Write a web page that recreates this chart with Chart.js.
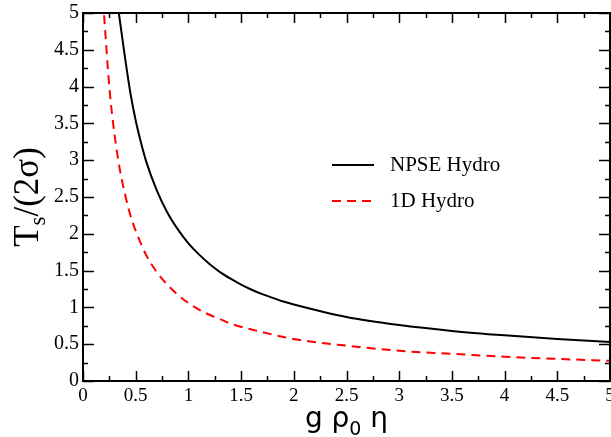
<!DOCTYPE html>
<html>
<head>
<meta charset="utf-8">
<script src="https://cdn.jsdelivr.net/npm/chart.js@4.4.0/dist/chart.umd.min.js"></script>
<style>
  html, body { margin: 0; padding: 0; background: #fff; }
  #wrap { width: 611px; height: 437px; position: relative; }
</style>
</head>
<body>
<div id="wrap"><canvas id="myChart"></canvas></div>
<script>
// values
const npseEta = [0.34, 0.4, 0.45, 0.5, 0.55, 0.6, 0.7, 0.8, 0.9, 1.0, 1.1, 1.2, 1.3, 1.4, 1.5, 1.6, 1.7, 1.8, 1.9, 2.0, 2.5, 3.0, 3.5, 4.0, 4.5, 5.0];
const npseT   = [5.0, 4.38, 3.91, 3.54, 3.24, 2.98, 2.59, 2.29, 2.06, 1.87, 1.72, 1.59, 1.48, 1.39, 1.31, 1.24, 1.18, 1.13, 1.08, 1.04, 0.87, 0.76, 0.68, 0.62, 0.57, 0.53];
const hydroEta = [0.2, 0.25, 0.3, 0.35, 0.4, 0.45, 0.5, 0.6, 0.7, 0.8, 0.9, 1.0, 1.1, 1.2, 1.3, 1.4, 1.6, 1.8, 2.0, 2.5, 3.0, 3.5, 4.0, 4.5, 5.0];
const hydroT   = [4.97, 3.99, 3.34, 2.87, 2.53, 2.25, 2.04, 1.71, 1.48, 1.31, 1.17, 1.06, 0.97, 0.9, 0.84, 0.78, 0.7, 0.63, 0.57, 0.48, 0.41, 0.37, 0.33, 0.3, 0.275];
const seriesNames = ['NPSE Hydro', '1D Hydro'];
const xTickValues = [0, 0.5, 1, 1.5, 2, 2.5, 3, 3.5, 4, 4.5, 5];
const xTickLabels = ['0', '0.5', '1', '1.5', '2', '2.5', '3', '3.5', '4', '4.5', '5'];
const yTickValues = [0, 0.5, 1, 1.5, 2, 2.5, 3, 3.5, 4, 4.5, 5];
const yTickLabels = ['0', '0.5', '1', '1.5', '2', '2.5', '3', '3.5', '4', '4.5', '5'];

const toPoints = (xs, ys) => xs.map((x, i) => ({ x: x, y: ys[i] }));

// frame with inward ticks on all four sides, titles with subscripts, legend
const framePlugin = {
    id: 'frame',
    afterDatasetsDraw(chart) {
        const ctx = chart.ctx;
        const a = chart.chartArea;
        const xs = chart.scales.x, ys = chart.scales.y;
        ctx.save();
        ctx.strokeStyle = '#000';
        ctx.lineWidth = 1.5;
        ctx.beginPath();
        for (let v = 0; v <= 5.001; v += 0.25) {
            const major = Math.abs(v * 2 - Math.round(v * 2)) < 1e-6;
            const px = Math.round(xs.getPixelForValue(v)) + 0.5;
            const py = Math.round(ys.getPixelForValue(v)) + 0.5;
            const lx = major ? 10 : 5;
            const ly = major ? 11 : 5;
            ctx.moveTo(px, a.bottom); ctx.lineTo(px, a.bottom - lx);
            ctx.moveTo(px, a.top); ctx.lineTo(px, a.top + lx);
            ctx.moveTo(a.left, py); ctx.lineTo(a.left + ly, py);
            ctx.moveTo(a.right, py); ctx.lineTo(a.right - ly, py);
        }
        ctx.stroke();
        ctx.lineWidth = 2;
        ctx.strokeRect(a.left, a.top, a.right - a.left, a.bottom - a.top);

        // legend
        const ds = chart.data.datasets;
        const rows = [165, 201];
        ds.forEach((d, i) => {
            ctx.strokeStyle = d.borderColor;
            ctx.lineWidth = 2;
            ctx.setLineDash(d.borderDash || []);
            ctx.beginPath();
            ctx.moveTo(332, rows[i]);
            ctx.lineTo(374, rows[i]);
            ctx.stroke();
            ctx.setLineDash([]);
            ctx.fillStyle = '#000';
            ctx.font = '21px "Liberation Serif"';
            ctx.textBaseline = 'middle';
            ctx.textAlign = 'left';
            ctx.fillText(d.label, 390, rows[i]);
        });

        // y title: T_s/(2σ)
        ctx.save();
        ctx.translate(38, (a.top + a.bottom) / 2);
        ctx.rotate(-Math.PI / 2);
        ctx.fillStyle = '#000';
        ctx.textBaseline = 'alphabetic';
        ctx.textAlign = 'left';
        const big = '35px "Liberation Serif"', small = '23px "Liberation Serif"';
        ctx.font = big; const wT = ctx.measureText('T').width;
        ctx.font = small; const wS = ctx.measureText('s').width;
        ctx.font = big; const wR = ctx.measureText('/(2σ)').width;
        let x0 = -(wT + wS + wR) / 2;
        ctx.font = big; ctx.fillText('T', x0, 0);
        ctx.font = small; ctx.fillText('s', x0 + wT, 7);
        ctx.font = big; ctx.fillText('/(2σ)', x0 + wT + wS, 0);
        ctx.restore();

        // x title: g ρ_0 η
        const xb = '28px "DejaVu Sans"', xsml = '19px "DejaVu Sans"';
        ctx.fillStyle = '#000';
        ctx.textBaseline = 'alphabetic';
        ctx.textAlign = 'left';
        ctx.font = xb; const w1 = ctx.measureText('g ρ').width;
        ctx.font = xsml; const w2 = ctx.measureText('0').width;
        ctx.font = xb; const w3 = ctx.measureText(' η').width;
        let gx = (a.left + a.right) / 2 - (w1 + w2 + w3) / 2;
        ctx.font = xb; ctx.fillText('g ρ', gx, 427);
        ctx.font = xsml; ctx.fillText('0', gx + w1, 435);
        ctx.font = xb; ctx.fillText(' η', gx + w1 + w2, 427);
        ctx.restore();
    }
};

const config = {
    type: 'line',
    data: {
        datasets: [{
            label: seriesNames[0],
            data: toPoints(npseEta, npseT),
            borderColor: '#000000',
            borderWidth: 2,
            pointRadius: 0,
            fill: false,
            cubicInterpolationMode: 'monotone'
        }, {
            label: seriesNames[1],
            data: toPoints(hydroEta, hydroT),
            borderColor: '#ff0000',
            borderWidth: 2,
            borderDash: [9, 6],
            pointRadius: 0,
            fill: false,
            cubicInterpolationMode: 'monotone'
        }]
    },
    options: {
        responsive: true,
        maintainAspectRatio: false,
        animation: false,
        layout: { padding: { top: 13, right: 1, left: 0, bottom: 0 } },
        plugins: {
            legend: { display: false },
            tooltip: { enabled: false }
        },
        scales: {
            x: {
                type: 'linear',
                min: 0,
                max: 5,
                grid: { display: false, drawTicks: false },
                border: { display: false },
                afterBuildTicks: (s) => { s.ticks = xTickValues.map(v => ({ value: v })); },
                afterFit: (s) => { s.height = 56; s.paddingLeft = 0; s.paddingRight = 0; },
                ticks: {
                    color: '#000',
                    padding: 4,
                    maxRotation: 0,
                    autoSkip: false,
                    font: { family: 'Liberation Serif', size: 19 },
                    callback: (v, i) => xTickLabels[i]
                }
            },
            y: {
                type: 'linear',
                min: 0,
                max: 5,
                grid: { display: false, drawTicks: false },
                border: { display: false },
                afterBuildTicks: (s) => { s.ticks = yTickValues.map(v => ({ value: v })); },
                afterFit: (s) => { s.width = 83; s.paddingTop = 0; s.paddingBottom = 0; },
                ticks: {
                    color: '#000',
                    padding: 4,
                    autoSkip: false,
                    font: { family: 'Liberation Serif', size: 20 },
                    callback: (v, i) => yTickLabels[i]
                }
            }
        }
    },
    plugins: [framePlugin]
};

new Chart(document.getElementById('myChart'), config);
</script>
</body>
</html>
